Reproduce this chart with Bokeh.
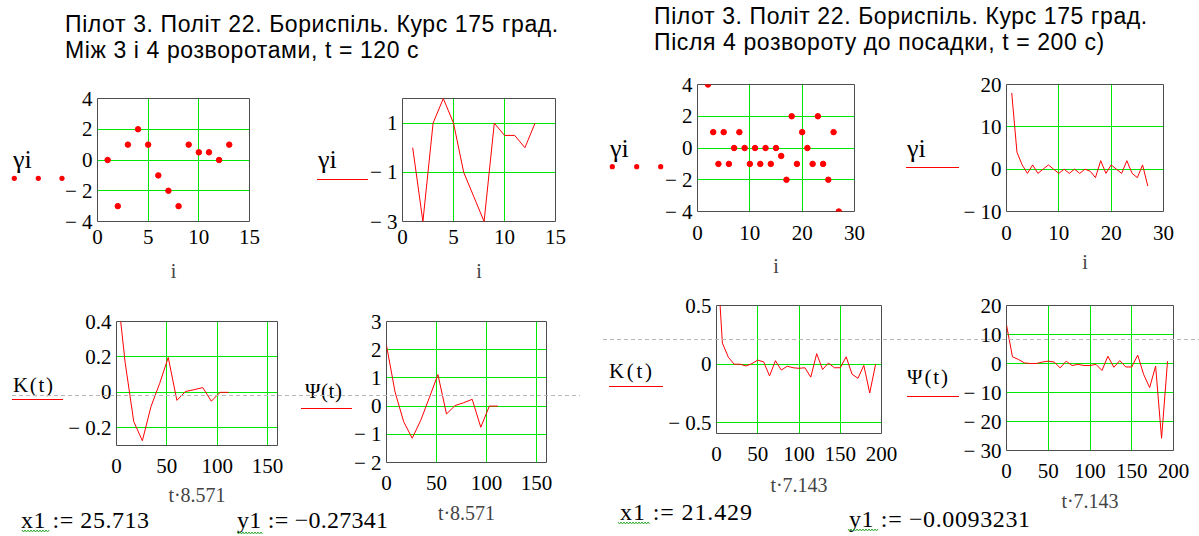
from bokeh.plotting import figure
from bokeh.models import FixedTicker, CustomJSTickFormatter, Div, Range1d
from bokeh.layouts import row, column
from bokeh.embed import file_html
from bokeh.resources import INLINE

# ---------------- data ----------------
title_line1 = "Пілот 3. Політ 22. Бориспіль. Курс 175 град."
title_left_line2 = "Між 3 і 4 розворотами, t = 120 с"
title_right_line2 = "Після 4 розвороту до посадки, t = 200 с)"

i_left = list(range(1, 14))
gamma_left = [0, -3, 1, 2, 1, -1, -2, -3, 1, 0.5, 0.5, 0, 1]

i_right = list(range(1, 28))
gamma_right = [18, 4, 1, -1, 1, -1, 0, 1, 0, -1, 0, -1, 0, -1, 0, -0.5, -2, 2,
               -1, 1, 0, -1, 2, -1, -2, 1, -4]

dt_left = 8.571
lag_left = list(range(0, 14))
K_left = [0.62, 0.17, -0.165, -0.273, -0.08, 0.05, 0.197, -0.045, 0.005, 0.015,
          0.027, -0.05, 0.0, 0.0]
Psi_left = [2.15, 0.5, -0.55, -1.14, -0.5, 0.3, 1.12, -0.28, 0.02, 0.12, 0.24,
            -0.75, 0.0, 0.0]

dt_right = 7.143
lag_right = list(range(0, 28))
K_right = [1.0, 0.18, 0.06, 0.0, 0.0, -0.015, 0.005, 0.035, 0.02, -0.1, 0.03,
           -0.05, -0.017, -0.03, -0.035, -0.03, -0.11, 0.09, -0.045, 0.01, -0.03,
           -0.03, 0.063, -0.085, -0.12, -0.01, -0.245, 0.0]
Psi_right = [13.3, 2.3, 1.4, 0.2, 0.0, 0.0, 0.5, 0.8, 0.5, -1.5, 0.8, -0.7, -0.3,
             -0.7, -0.7, -0.3, -2.4, 2.5, -1.3, 1.0, -1.2, -1.2, 2.9, -3.8, -8.3,
             -0.9, -25.8, 0.8]

x1_left, y1_left = "25.713", "−0.27341"
x1_right, y1_right = "21.429", "−0.0093231"

# ---------------- style ----------------
SERIF = "Liberation Serif"
RED = "#ff0000"
GRID = "#00e600"
FRAME = "#4d4d4d"
DASH = "#b8b8b8"
SQUIG = "#33aa33"

TICK_CODE = """
const v = Math.round(Math.abs(tick) * 1000) / 1000;
return tick < 0 ? "\\u2212 " + v : "" + v;
"""


def make_plot(canvas, frame, xr, yr, xticks, yticks, xgrid, ygrid, xlabel,
              x_standoff, label_standoff):
    cx0, cy0, W, H = canvas
    L, R, T, B = frame
    p = figure(width=W, height=H, x_range=Range1d(*xr), y_range=Range1d(*yr),
               output_backend="svg", toolbar_location=None, frame_align=False,
               min_border_left=L - cx0, min_border_right=cx0 + W - R,
               min_border_top=T - cy0, min_border_bottom=cy0 + H - B)
    p.background_fill_color = "white"
    p.border_fill_color = "white"
    p.outline_line_color = FRAME
    p.outline_line_width = 1
    for ax, ticks in ((p.xaxis[0], xticks), (p.yaxis[0], yticks)):
        ax.ticker = FixedTicker(ticks=ticks)
        ax.formatter = CustomJSTickFormatter(code=TICK_CODE)
        ax.axis_line_color = None
        ax.major_tick_line_color = None
        ax.minor_tick_line_color = None
        ax.major_tick_out = 0
        ax.major_tick_in = 0
        ax.minor_tick_out = 0
        ax.minor_tick_in = 0
        ax.major_label_text_font = SERIF
        ax.major_label_text_font_size = "21px"
        ax.major_label_text_color = "black"
    p.xaxis[0].major_label_standoff = x_standoff
    p.yaxis[0].major_label_standoff = 5
    p.xaxis[0].axis_label = xlabel
    p.xaxis[0].axis_label_text_font = SERIF
    p.xaxis[0].axis_label_text_font_size = "20px"
    p.xaxis[0].axis_label_text_font_style = "normal"
    p.xaxis[0].axis_label_standoff = label_standoff
    p.xgrid.ticker = FixedTicker(ticks=xgrid)
    p.ygrid.ticker = FixedTicker(ticks=ygrid)
    p.xgrid.grid_line_color = GRID
    p.ygrid.grid_line_color = GRID
    p.xgrid.grid_line_width = 1
    p.ygrid.grid_line_width = 1
    return p


# ---------------- plots ----------------
f1 = make_plot((0, 68, 300, 222), (97, 249, 98, 221), (0, 15), (-4, 4),
               [0, 5, 10, 15], [-4, -2, 0, 2, 4], [5, 10], [-2, 0, 2], "i", 8, 13)
f1.scatter(i_left, gamma_left, size=5.5, color=RED)

f2 = make_plot((300, 68, 300, 222), (402, 555, 98, 221), (0, 15), (-3, 2),
               [0, 5, 10, 15], [-3, -1, 1], [5, 10], [-1, 1], "i", 8, 13)
f2.line(i_left, gamma_left, color=RED, line_width=1)

f5 = make_plot((0, 290, 295, 246), (116, 277, 321, 445), (0, 160), (-0.3, 0.4),
               [0, 50, 100, 150], [-0.2, 0, 0.2, 0.4], [50, 100, 150],
               [-0.2, 0, 0.2], "t·8.571", 13, 8)
f5.line([k * dt_left for k in lag_left], K_left, color=RED, line_width=1)

f6 = make_plot((295, 290, 305, 246), (386, 546, 321, 462), (0, 160), (-2, 3),
               [0, 50, 100, 150], [-2, -1, 0, 1, 2, 3], [50, 100, 150],
               [-1, 0, 1, 2], "t·8.571", 13, 9)
f6.line([k * dt_left for k in lag_left], Psi_left, color=RED, line_width=1)

f3 = make_plot((600, 60, 300, 225), (697, 854, 84, 211), (0, 30), (-4, 4),
               [0, 10, 20, 30], [-4, -2, 0, 2, 4], [10, 20], [-2, 0, 2], "i", 14, 12)
f3.scatter(i_right, gamma_right, size=5.5, color=RED)

f4 = make_plot((900, 60, 299, 225), (1006, 1163, 84, 211), (0, 30), (-10, 20),
               [0, 10, 20, 30], [-10, 0, 10, 20], [10, 20], [0, 10], "i", 14, 8)
f4.line(i_right, gamma_right, color=RED, line_width=1)

f7 = make_plot((600, 285, 303, 251), (716, 881, 305, 433), (0, 200), (-0.59, 0.5),
               [0, 50, 100, 150, 200], [-0.5, 0, 0.5], [50, 100, 150], [-0.5, 0],
               "t·7.143", 13, 10)
f7.line([k * dt_right for k in lag_right], K_right, color=RED, line_width=1)

f8 = make_plot((903, 285, 296, 251), (1006, 1173, 305, 450), (0, 200), (-30, 20),
               [0, 50, 100, 150, 200], [-30, -20, -10, 0, 10, 20], [50, 100, 150],
               [-20, -10, 0, 10], "t·7.143", 13, 9)
f8.line([k * dt_right for k in lag_right], Psi_right, color=RED, line_width=1)


# ---------------- titles ----------------
def title_div(width, height, pad_top, pad_left, line2):
    html = ('<div style="font-family:\'Liberation Sans\',Arial,sans-serif;'
            'font-size:23px;line-height:26px;letter-spacing:0.6px;color:#000;'
            'white-space:nowrap;padding:%dpx 0 0 %dpx;">%s<br>%s</div>'
            % (pad_top, pad_left, title_line1, line2))
    return Div(text=html, width=width, height=height, margin=0)


d_left = title_div(600, 68, 11, 65, title_left_line2)
d_right = title_div(599, 60, 3, 54, title_right_line2)


# ---------------- Mathcad trace labels / legends (overlay) ----------------
def t(x, y, s, size, length=None, color="#000"):
    tl = ' textLength="%s" lengthAdjust="spacing"' % length if length else ""
    return ('<text x="%s" y="%s" style="font-family:\'Liberation Serif\',serif;'
            'font-size:%spx;fill:%s"%s>%s</text>' % (x, y, size, color, tl, s))


def ln(x0, x1, y, color=RED, dash=None):
    d = ' stroke-dasharray="%s"' % dash if dash else ""
    return ('<line x1="%s" y1="%s" x2="%s" y2="%s" stroke="%s" stroke-width="1"%s/>'
            % (x0, y, x1, y, color, d))


def dots(xs, y):
    return "".join('<circle cx="%s" cy="%s" r="2.6" fill="%s"/>' % (x, y, RED) for x in xs)


def squiggle(x0, x1, y):
    pts = []
    x, k = x0, 0
    while x <= x1:
        pts.append("%s,%s" % (x, y + (1 if k % 2 else -1)))
        x += 1.5
        k += 1
    return ('<polyline points="%s" fill="none" stroke="%s" stroke-width="1"/>'
            % (" ".join(pts), SQUIG))


parts = [
    t(13, 168, "γi", 26), dots([14.3, 38.3, 62], 178.3),
    t(318, 168, "γi", 26), ln(317, 368, 179.5),
    t(610, 157, "γi", 26), dots([612.3, 636.7, 660.7], 166.7),
    t(907, 157, "γi", 26), ln(906, 959, 167.5),
    t(13, 392, "K(t)", 21, 40), ln(12, 63, 399.5),
    t(305, 398, "Ψ(t)", 21, 37), ln(301, 352, 408.5),
    t(609, 378, "K(t)", 21, 43), ln(609, 663, 386.5),
    t(907, 384, "Ψ(t)", 21, 41), ln(907, 959, 396.5),
    ln(12, 580, 395.5, DASH, "4 3"), ln(603, 1199, 339.5, DASH, "4 3"),
    t(21, 528, "x1 := " + x1_left, 24, 128), squiggle(22, 50, 531),
    t(237, 528, "y1 := " + y1_left, 24, 151), squiggle(237, 263, 533),
    t(620, 520, "x1 := " + x1_right, 24, 132), squiggle(618, 650, 523),
    t(849, 527, "y1 := " + y1_right, 24, 181), squiggle(848, 878, 530),
]
svg = ('<svg xmlns="http://www.w3.org/2000/svg" width="1199" height="536" '
       'style="display:block;overflow:visible">' + "".join(parts) + "</svg>")
overlay = Div(text=svg, width=1199, height=536, margin=0,
              styles={"position": "absolute", "left": "0px", "top": "0px",
                      "z-index": "10", "pointer-events": "none"})

left = column(d_left, row(f1, f2), row(f5, f6))
right = column(d_right, row(f3, f4), row(f7, f8))
layout = row(left, right, overlay)

with open("out.html", "w", encoding="utf-8") as fh:
    fh.write(file_html(layout, INLINE))
